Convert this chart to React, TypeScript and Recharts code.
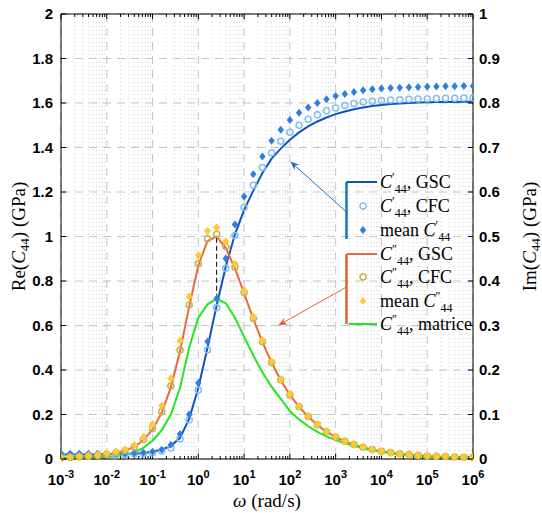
import React from "react";
import {
  CartesianGrid,
  ComposedChart,
  Line,
  ReferenceLine,
  XAxis,
  YAxis,
} from "recharts";

// angular frequency (rad/s)
const omega = [
  0.001, 0.001585, 0.002512, 0.003981, 0.00631,
  0.01, 0.01585, 0.02512, 0.03981, 0.0631,
  0.1, 0.1585, 0.2512, 0.3981, 0.631,
  1, 1.585, 2.512, 3.981, 6.31,
  10, 15.85, 25.12, 39.81, 63.1,
  100, 158.5, 251.2, 398.1, 631,
  1000, 1585, 2512, 3981, 6310,
  10000, 15850, 25120, 39810, 63100,
  100000, 158500, 251200, 398100, 631000,
  1000000,
];

// Re(C44) in GPa (left axis)
const reGsc = [
  0.02, 0.02, 0.02, 0.02, 0.02,
  0.021, 0.021, 0.022, 0.024, 0.027,
  0.033, 0.043, 0.058, 0.095, 0.18,
  0.32, 0.5, 0.69, 0.865, 1.01,
  1.12, 1.205, 1.285, 1.35, 1.395,
  1.435, 1.468, 1.495, 1.517, 1.535,
  1.55, 1.562, 1.572, 1.58, 1.586,
  1.591, 1.595, 1.598, 1.6, 1.602,
  1.603, 1.604, 1.605, 1.605, 1.606,
  1.606,
];
const reCfc = [
  0.018, 0.018, 0.018, 0.018, 0.018,
  0.019, 0.019, 0.02, 0.022, 0.025,
  0.027, 0.036, 0.05, 0.09, 0.175,
  0.31, 0.49, 0.68, 0.857, 1.005,
  1.13, 1.23, 1.31, 1.376, 1.428,
  1.468, 1.5, 1.527, 1.547, 1.565,
  1.578, 1.589, 1.598, 1.604, 1.608,
  1.611, 1.613, 1.615, 1.617, 1.618,
  1.619, 1.62, 1.621, 1.621, 1.622,
  1.622,
];
const reMean = [
  0.024, 0.024, 0.024, 0.024, 0.024,
  0.024, 0.025, 0.025, 0.026, 0.028,
  0.033, 0.042, 0.064, 0.112, 0.2,
  0.342, 0.528, 0.721, 0.901, 1.054,
  1.18, 1.28, 1.36, 1.43, 1.48,
  1.524, 1.556, 1.58, 1.6, 1.617,
  1.631, 1.641, 1.65, 1.657, 1.662,
  1.665, 1.667, 1.669, 1.671, 1.672,
  1.673, 1.674, 1.675, 1.675, 1.676,
  1.676,
];

// Im(C44) in GPa (right axis)
const imGsc = [
  0.002, 0.003, 0.004, 0.0055, 0.0075,
  0.01, 0.0135, 0.0185, 0.027, 0.0425,
  0.0665, 0.104, 0.161, 0.242, 0.3425,
  0.435, 0.49, 0.5, 0.474, 0.4285,
  0.3725, 0.315, 0.2625, 0.2165, 0.177,
  0.144, 0.117, 0.095, 0.0765, 0.061,
  0.049, 0.0395, 0.032, 0.026, 0.021,
  0.017, 0.014, 0.0115, 0.0095, 0.008,
  0.0065, 0.0055, 0.0045, 0.004, 0.0035,
  0.003,
];
const imCfc = [
  0.0025, 0.0035, 0.0045, 0.006, 0.008,
  0.0105, 0.014, 0.019, 0.0275, 0.044,
  0.0685, 0.106, 0.164, 0.245, 0.346,
  0.439, 0.495, 0.505, 0.4775, 0.431,
  0.374, 0.316, 0.2635, 0.217, 0.1775,
  0.1445, 0.1175, 0.0955, 0.077, 0.0615,
  0.0495, 0.04, 0.0325, 0.0265, 0.0215,
  0.0175, 0.0145, 0.012, 0.01, 0.0085,
  0.007, 0.006, 0.0055, 0.0045, 0.004,
  0.0035,
];
const imMean = [
  0.003, 0.0045, 0.006, 0.0075, 0.0095,
  0.013, 0.0165, 0.0215, 0.031, 0.0495,
  0.0775, 0.1195, 0.181, 0.266, 0.365,
  0.4575, 0.5125, 0.52, 0.489, 0.4385,
  0.379, 0.3205, 0.2665, 0.219, 0.179,
  0.146, 0.1185, 0.0965, 0.0775, 0.062,
  0.05, 0.0405, 0.033, 0.027, 0.021,
  0.0165, 0.0135, 0.011, 0.0095, 0.008,
  0.0075, 0.0065, 0.006, 0.005, 0.0045,
  0.0035,
];
const imMat = [
  0.0005, 0.001, 0.0015, 0.002, 0.003,
  0.004, 0.006, 0.0095, 0.015, 0.025,
  0.041, 0.065, 0.1, 0.16, 0.25,
  0.3175, 0.3475, 0.36, 0.35, 0.3175,
  0.275, 0.2325, 0.195, 0.1625, 0.135,
  0.1075, 0.089, 0.0735, 0.061, 0.051,
  0.0425, 0.0355, 0.0295, 0.024, 0.0195,
  0.016, 0.013, 0.0105, 0.0085, 0.007,
  0.0055, 0.0045, 0.0035, 0.003, 0.0025,
  0.002,
];

const peakIndex = 17;

const xTicks = [1e-3, 1e-2, 1e-1, 1, 1e1, 1e2, 1e3, 1e4, 1e5, 1e6];
const xTickExp = ["-3", "-2", "-1", "0", "1", "2", "3", "4", "5", "6"];
const reTicks = [0, 0.2, 0.4, 0.6, 0.8, 1, 1.2, 1.4, 1.6, 1.8, 2];
const reTickLabels = ["0", "0.2", "0.4", "0.6", "0.8", "1", "1.2", "1.4", "1.6", "1.8", "2"];
const imTicks = [0, 0.1, 0.2, 0.3, 0.4, 0.5, 0.6, 0.7, 0.8, 0.9, 1];
const imTickLabels = ["0", "0.1", "0.2", "0.3", "0.4", "0.5", "0.6", "0.7", "0.8", "0.9", "1"];
const minorMult = [2, 3, 4, 5, 6, 7, 8, 9];

const minorX = xTicks.slice(0, -1).flatMap((d) => minorMult.map((m) => d * m));

const data = omega.map((w, i) => ({
  w,
  reGsc: reGsc[i],
  reCfc: reCfc[i],
  reMean: reMean[i],
  imGsc: imGsc[i],
  imCfc: imCfc[i],
  imMean: imMean[i],
  imMat: imMat[i],
}));

const C = {
  reGsc: "#0b56c0",
  reCfc: "#86bdf2",
  reMean: "#2f7de3",
  imGsc: "#e8693f",
  imCfc: "#c2b44a",
  imMean: "#ffc933",
  imMat: "#22e622",
  blueBracket: "#1a72c4",
  orangeBracket: "#e2622e",
};

const tickFont = "'Liberation Sans', Arial, sans-serif";
const mathFont = "'Liberation Serif', 'Times New Roman', serif";

// chart fills the whole page; body margin is removed
const W = 542;
const H = 513;

function XTick(props: any) {
  const { x, y, index } = props;
  return (
    <text x={x} y={y} textAnchor="middle" fontFamily={tickFont} fontWeight="bold" fontSize={15} fill="#000">
      <tspan dy={20}>10</tspan>
      <tspan dy={-7} fontSize={11}>{xTickExp[index]}</tspan>
    </text>
  );
}

function LeftTick(props: any) {
  const { x, y, index } = props;
  return (
    <g>
      <line x1={x + 8} x2={x + 13} y1={y} y2={y} stroke="#000" />
      <text x={x} y={y} dy={5} textAnchor="end" fontFamily={tickFont} fontWeight="bold" fontSize={15} fill="#000">
        {reTickLabels[index]}
      </text>
    </g>
  );
}

function RightTick(props: any) {
  const { x, y, index } = props;
  return (
    <g>
      <line x1={x - 6} x2={x - 11} y1={y} y2={y} stroke="#000" />
      <text x={x} y={y} dy={5} textAnchor="start" fontFamily={tickFont} fontWeight="bold" fontSize={15} fill="#000">
        {imTickLabels[index]}
      </text>
    </g>
  );
}

function diamondDot(fill: string, s: number) {
  return (p: any) => {
    if (p.cx == null || p.cy == null) return <g key={p.index} />;
    const { cx, cy } = p;
    return (
      <polygon
        key={p.index}
        points={`${cx},${cy - s} ${cx + s * 0.8},${cy} ${cx},${cy + s} ${cx - s * 0.8},${cy}`}
        fill={fill}
      />
    );
  };
}

function MathLabel({ x, y, head, prime, tail }: { x: number; y: number; head?: string; prime: string; tail?: string }) {
  return (
    <text x={x} y={y} fontFamily={mathFont} fontSize={18} fill="#000">
      {head}
      <tspan fontStyle="italic">C</tspan>
      <tspan fontSize={12} dy={-7}>{prime}</tspan>
      <tspan fontSize={12} dy={12}>44</tspan>
      <tspan dy={-5}>{tail}</tspan>
    </text>
  );
}

function Overlay() {
  const bx = 346.5;
  const lx = 380;
  const mx = 363;
  const rows = [182, 206, 230, 254, 277, 301, 324];
  return (
    <svg width={W} height={H} style={{ position: "absolute", left: 0, top: 0, pointerEvents: "none" }}>
      <defs>
        <marker id="ab" viewBox="0 0 10 10" refX="9" refY="5" markerWidth="9" markerHeight="9" orient="auto-start-reverse" markerUnits="userSpaceOnUse">
          <path d="M0,1 L10,5 L0,9 L3,5 z" fill={C.blueBracket} />
        </marker>
        <marker id="ao" viewBox="0 0 10 10" refX="9" refY="5" markerWidth="9" markerHeight="9" orient="auto-start-reverse" markerUnits="userSpaceOnUse">
          <path d="M0,1 L10,5 L0,9 L3,5 z" fill={C.orangeBracket} />
        </marker>
      </defs>
      {/* arrows */}
      <line x1={bx} y1={212} x2={291} y2={162} stroke={C.blueBracket} strokeWidth={1} markerEnd="url(#ab)" />
      <line x1={bx} y1={287} x2={279} y2={325} stroke={C.orangeBracket} strokeWidth={1} markerEnd="url(#ao)" />
      {/* brackets */}
      <line x1={bx} x2={bx} y1={rows[0]} y2={rows[2] + 9} stroke={C.blueBracket} strokeWidth={2.5} />
      <line x1={bx} x2={bx} y1={rows[3]} y2={rows[6]} stroke={C.orangeBracket} strokeWidth={2.5} />
      {/* legend samples */}
      <line x1={bx} x2={377} y1={rows[0]} y2={rows[0]} stroke={C.reGsc} strokeWidth={2} />
      <circle cx={mx} cy={rows[1]} r={3} fill="none" stroke={C.reCfc} strokeWidth={1.5} />
      {diamondDot(C.reMean, 4)({ cx: mx, cy: rows[2], index: 0 })}
      <line x1={bx} x2={377} y1={rows[3]} y2={rows[3]} stroke={C.imGsc} strokeWidth={2} />
      <circle cx={mx} cy={rows[4]} r={3} fill="none" stroke={C.imCfc} strokeWidth={1.5} />
      {diamondDot(C.imMean, 4)({ cx: mx, cy: rows[5], index: 1 })}
      <line x1={bx + 2} x2={377} y1={rows[6]} y2={rows[6]} stroke={C.imMat} strokeWidth={2} />
      {/* legend labels */}
      <MathLabel x={lx} y={rows[0] + 6} prime="′" tail=", GSC" />
      <MathLabel x={lx} y={rows[1] + 6} prime="′" tail=", CFC" />
      <MathLabel x={lx} y={rows[2] + 6} head="mean " prime="′" />
      <MathLabel x={lx} y={rows[3] + 6} prime="″" tail=", GSC" />
      <MathLabel x={lx} y={rows[4] + 6} prime="″" tail=", CFC" />
      <MathLabel x={lx} y={rows[5] + 6} head="mean " prime="″" />
      <MathLabel x={lx} y={rows[6] + 6} prime="″" tail=", matrice" />
      {/* axis titles */}
      <text transform="translate(25,236.5) rotate(-90)" textAnchor="middle" fontFamily={mathFont} fontSize={19}>
        Re(<tspan fontStyle="italic">C</tspan><tspan fontSize={13} dy={4}>44</tspan><tspan dy={-4}>)  (GPa)</tspan>
      </text>
      <text transform="translate(536,236.5) rotate(-90)" textAnchor="middle" fontFamily={mathFont} fontSize={19}>
        Im(<tspan fontStyle="italic">C</tspan><tspan fontSize={13} dy={4}>44</tspan><tspan dy={-4}>)  (GPa)</tspan>
      </text>
      <text x={267} y={507} textAnchor="middle" fontFamily={mathFont} fontSize={19}>
        <tspan fontStyle="italic">ω</tspan> (rad/s)
      </text>
    </svg>
  );
}

export default function App() {
  return (
    <div style={{ position: "relative", width: W, height: H, background: "#fff" }}>
      <style>{"body{margin:0}"}</style>
      <ComposedChart width={W} height={H} data={data} margin={{ top: 14, right: 8, bottom: 0, left: 8 }}>
        <CartesianGrid xAxisId="b" yAxisId="re" stroke="#c4c4c4" strokeDasharray="8 6" />
        {minorX.map((t) => (
          <ReferenceLine key={`mg${t}`} xAxisId="b" yAxisId="re" x={t} stroke="#d2d2d2" strokeDasharray="1 3" />
        ))}
        <XAxis
          xAxisId="b"
          dataKey="w"
          type="number"
          scale="log"
          domain={[1e-3, 1e6]}
          ticks={xTicks}
          allowDataOverflow
          height={54}
          tickSize={0}
          tickMargin={6}
          tickLine={false}
          tick={<XTick />}
          axisLine={{ stroke: "#000" }}
          interval={0}
        />
        <YAxis
          yAxisId="re"
          domain={[0, 2]}
          ticks={reTicks}
          width={53}
          tickSize={0}
          tickMargin={8}
          tickLine={false}
          tick={<LeftTick />}
          axisLine={{ stroke: "#000" }}
          interval={0}
        />
        <YAxis
          yAxisId="im"
          orientation="right"
          domain={[0, 1]}
          ticks={imTicks}
          width={61}
          tickSize={0}
          tickMargin={6}
          tickLine={false}
          tick={<RightTick />}
          axisLine={{ stroke: "#000" }}
          interval={0}
        />
        <ReferenceLine xAxisId="b" yAxisId="re" y={2} stroke="#000" />
        {xTicks.map((t) => (
          <ReferenceLine key={`bt${t}`} xAxisId="b" yAxisId="re" segment={[{ x: t, y: 0 }, { x: t, y: 0.023 }]} stroke="#000" />
        ))}
        {xTicks.map((t) => (
          <ReferenceLine key={`tt${t}`} xAxisId="b" yAxisId="re" segment={[{ x: t, y: 2 }, { x: t, y: 1.977 }]} stroke="#000" />
        ))}
        {minorX.map((t) => (
          <ReferenceLine key={`bm${t}`} xAxisId="b" yAxisId="re" segment={[{ x: t, y: 0 }, { x: t, y: 0.0135 }]} stroke="#000" />
        ))}
        {minorX.map((t) => (
          <ReferenceLine key={`tm${t}`} xAxisId="b" yAxisId="re" segment={[{ x: t, y: 2 }, { x: t, y: 1.9865 }]} stroke="#000" />
        ))}
        <ReferenceLine
          xAxisId="b"
          yAxisId="im"
          segment={[
            { x: omega[peakIndex], y: imMat[peakIndex] },
            { x: omega[peakIndex], y: imGsc[peakIndex] },
          ]}
          stroke="#000"
          strokeDasharray="5 3"
        />

        <Line xAxisId="b" yAxisId="re" dataKey="reGsc" type="linear" stroke={C.reGsc} strokeWidth={2} dot={false} activeDot={false} isAnimationActive={false} />
        <Line xAxisId="b" yAxisId="re" dataKey="reCfc" type="linear" stroke="none" dot={{ r: 3, fill: "none", stroke: C.reCfc, strokeWidth: 1.5 }} activeDot={false} isAnimationActive={false} />
        <Line xAxisId="b" yAxisId="re" dataKey="reMean" type="linear" stroke="none" dot={diamondDot(C.reMean, 4)} activeDot={false} isAnimationActive={false} />
        <Line xAxisId="b" yAxisId="im" dataKey="imGsc" type="linear" stroke={C.imGsc} strokeWidth={2} dot={false} activeDot={false} isAnimationActive={false} />
        <Line xAxisId="b" yAxisId="im" dataKey="imCfc" type="linear" stroke="none" dot={{ r: 3, fill: "none", stroke: C.imCfc, strokeWidth: 1.5 }} activeDot={false} isAnimationActive={false} />
        <Line xAxisId="b" yAxisId="im" dataKey="imMean" type="linear" stroke="none" dot={diamondDot(C.imMean, 4.3)} activeDot={false} isAnimationActive={false} />
        <Line xAxisId="b" yAxisId="im" dataKey="imMat" type="linear" stroke={C.imMat} strokeWidth={2} dot={false} activeDot={false} isAnimationActive={false} />
      </ComposedChart>
      <Overlay />
    </div>
  );
}
